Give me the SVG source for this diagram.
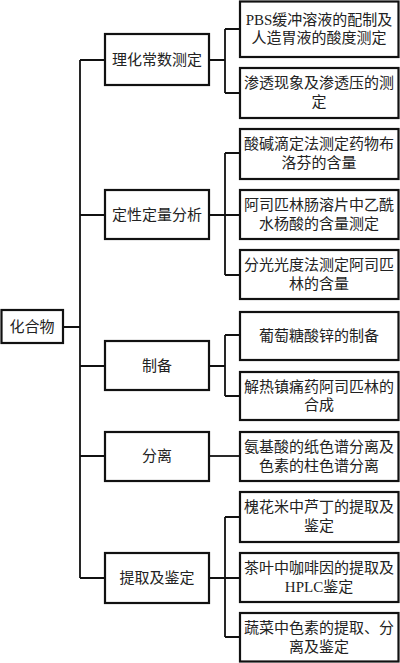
<svg xmlns="http://www.w3.org/2000/svg" width="400" height="663" viewBox="0 0 400 663">
<style>
.b{fill:#fff;stroke:#111;stroke-width:2.2}
.c{fill:none;stroke:#111;stroke-width:1.8}
text{font-family:"Liberation Serif","Noto Sans CJK SC",serif;font-size:15px;fill:#222;text-anchor:middle;dominant-baseline:central}
</style>
<rect width="400" height="663" fill="#fff"/>
<g id="connectors">
<path class="c" d="M63 327H80M80 60V578M80 60H105M80 215H105M80 366H105M80 456H105M80 578H105"/>
<path class="c" d="M209 60H225M225 29V93M225 29H240M225 93H240"/>
<path class="c" d="M209 215H240M225 153V275M225 153H240M225 275H240"/>
<path class="c" d="M209 366H225M225 335V396M225 335H240M225 396H240"/>
<path class="c" d="M209 456H240"/>
<path class="c" d="M209 578H240M225 517V637M225 517H240M225 637H240"/>
</g>
<g id="root"><rect class="b" x="1.5" y="310" width="61.5" height="33"/><text x="32" y="327">化合物</text></g>
<g id="n1"><rect class="b" x="105" y="34" width="104" height="51"/><text x="157" y="60">理化常数测定</text></g>
<g id="n2"><rect class="b" x="105" y="190" width="104" height="49"/><text x="157" y="215">定性定量分析</text></g>
<g id="n3"><rect class="b" x="105" y="341" width="104" height="49"/><text x="157" y="366">制备</text></g>
<g id="n4"><rect class="b" x="105" y="432" width="104" height="49"/><text x="157" y="456">分离</text></g>
<g id="n5"><rect class="b" x="105" y="553" width="104" height="50"/><text x="157" y="578">提取及鉴定</text></g>
<g id="l1"><rect class="b" x="240" y="1.5" width="158.5" height="55.5"/><text x="319" y="20">PBS缓冲溶液的配制及</text><text x="319" y="38">人造胃液的酸度测定</text></g>
<g id="l2"><rect class="b" x="240" y="68" width="158.5" height="50"/><text x="319" y="83">渗透现象及渗透压的测</text><text x="319" y="102">定</text></g>
<g id="l3"><rect class="b" x="240" y="129" width="158.5" height="50"/><text x="319" y="144">酸碱滴定法测定药物布</text><text x="319" y="163">洛芬的含量</text></g>
<g id="l4"><rect class="b" x="240" y="190" width="158.5" height="49"/><text x="319" y="205">阿司匹林肠溶片中乙酰</text><text x="319" y="224">水杨酸的含量测定</text></g>
<g id="l5"><rect class="b" x="240" y="250" width="158.5" height="49"/><text x="319" y="265">分光光度法测定阿司匹</text><text x="319" y="284">林的含量</text></g>
<g id="l6"><rect class="b" x="240" y="312" width="158.5" height="48"/><text x="319" y="336">葡萄糖酸锌的制备</text></g>
<g id="l7"><rect class="b" x="240" y="372" width="158.5" height="48"/><text x="319" y="387">解热镇痛药阿司匹林的</text><text x="319" y="405">合成</text></g>
<g id="l8"><rect class="b" x="240" y="432" width="158.5" height="49"/><text x="319" y="447">氨基酸的纸色谱分离及</text><text x="319" y="466">色素的柱色谱分离</text></g>
<g id="l9"><rect class="b" x="240" y="492" width="158.5" height="50"/><text x="319" y="507">槐花米中芦丁的提取及</text><text x="319" y="526">鉴定</text></g>
<g id="l10"><rect class="b" x="240" y="553" width="158.5" height="49"/><text x="319" y="568">茶叶中咖啡因的提取及</text><text x="319" y="587">HPLC鉴定</text></g>
<g id="l11"><rect class="b" x="240" y="613" width="158.5" height="48.5"/><text x="319" y="628">蔬菜中色素的提取、分</text><text x="319" y="647">离及鉴定</text></g>
</svg>
